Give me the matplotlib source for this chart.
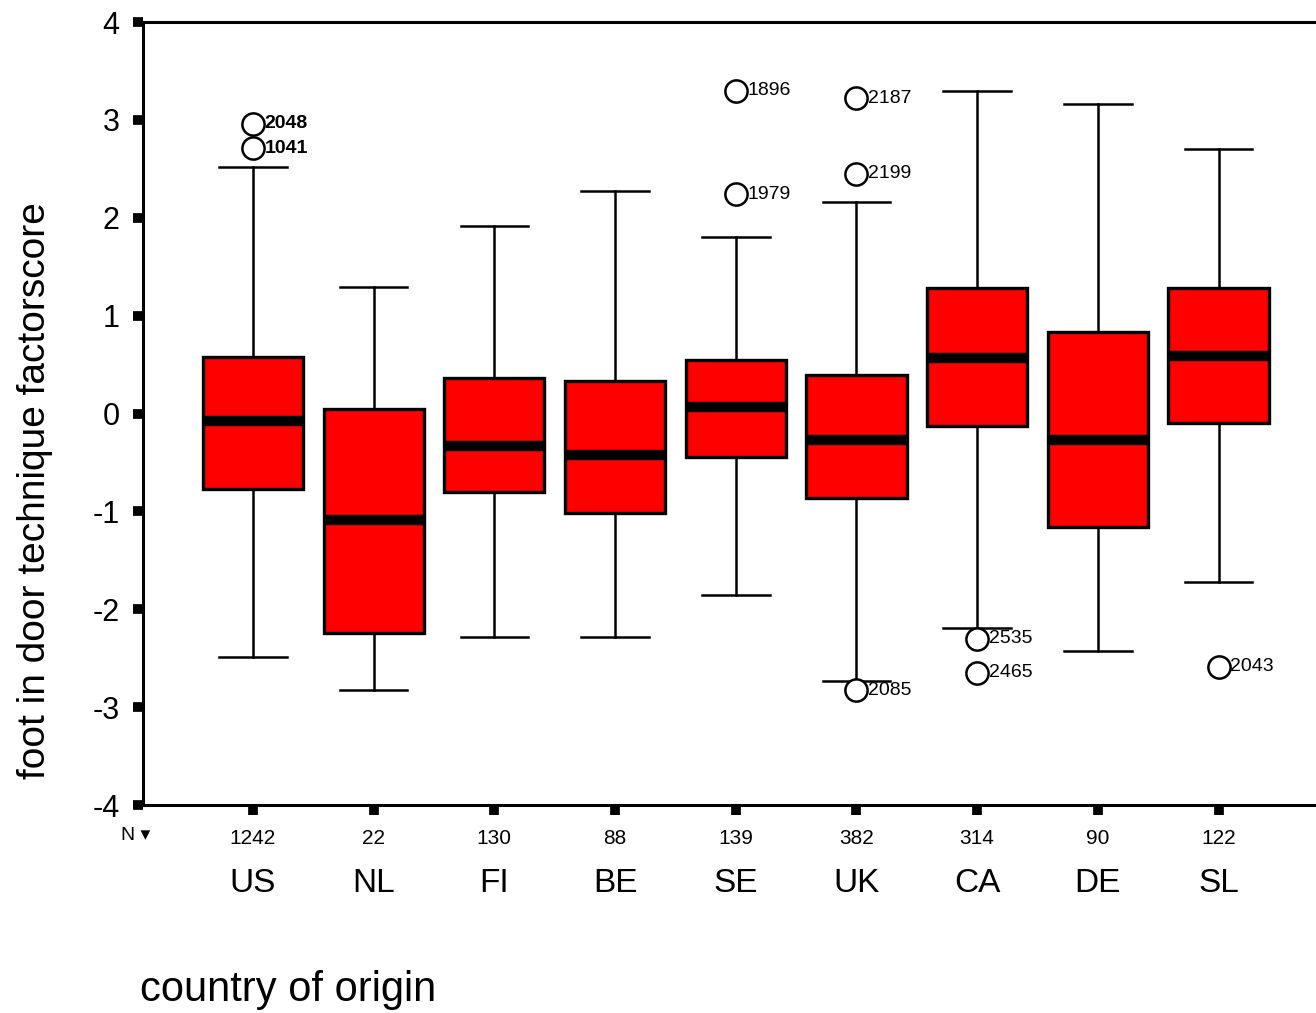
import matplotlib
matplotlib.use("Agg")
import matplotlib.pyplot as plt
from matplotlib.transforms import blended_transform_factory

countries = ["US", "NL", "FI", "BE", "SE", "UK", "CA", "DE", "SL"]
counts = ["1242", "22", "130", "88", "139", "382", "314", "90", "122"]
whisk_hi = [2.52, 1.29, 1.92, 2.27, 1.80, 2.16, 3.29, 3.16, 2.70]
q3 = [0.58, 0.05, 0.36, 0.33, 0.55, 0.39, 1.28, 0.83, 1.28]
medians = [-0.08, -1.09, -0.33, -0.42, 0.07, -0.27, 0.57, -0.27, 0.59]
q1 = [-0.77, -2.24, -0.80, -1.02, -0.44, -0.86, -0.13, -1.16, -0.10]
whisk_lo = [-2.49, -2.83, -2.28, -2.28, -1.85, -2.73, -2.19, -2.43, -1.72]
outlier_vals = [[2.96, 2.71], [], [], [], [3.30, 2.24],
                [3.22, 2.45, -2.83], [-2.30, -2.65], [], [-2.59]]
outlier_labels = [["2048", "1041"], [], [], [], ["1896", "1979"],
                  ["2187", "2199", "2085"], ["2535", "2465"], [], ["2043"]]
y_ticks = [4, 3, 2, 1, 0, -1, -2, -3, -4]

plt.rcParams['font.family'] = ['Liberation Sans', 'DejaVu Sans']
fig = plt.figure(figsize=(13.16, 10.13), dpi=100)
ax = fig.add_axes([143/1316, 1-805/1013, 1-143/1316, (805-22)/1013])

stats = []
for i in range(len(countries)):
    stats.append(dict(med=medians[i], q1=q1[i], q3=q3[i],
                      whislo=whisk_lo[i], whishi=whisk_hi[i], fliers=[]))
pos = list(range(len(countries)))
ax.bxp(stats, positions=pos, widths=0.83, patch_artist=True, showfliers=False,
       boxprops=dict(facecolor="#ff0000", edgecolor="black", linewidth=2.4),
       medianprops=dict(color="black", linewidth=7.5, solid_capstyle="butt"),
       whiskerprops=dict(color="black", linewidth=1.8),
       capprops=dict(color="black", linewidth=1.8),
       capwidths=0.56)

for i, (vals, labs) in enumerate(zip(outlier_vals, outlier_labels)):
    for v, lab in zip(vals, labs):
        ax.plot([i], [v], 'o', markersize=16, markerfacecolor="white",
                markeredgecolor="black", markeredgewidth=1.8, zorder=5)
        ax.annotate(lab, (i, v), xytext=(8.5, 0), textcoords="offset points",
                    fontsize=14, va="center", ha="left", zorder=6,
                    fontweight="bold" if i == 0 else "normal")

ax.set_xlim(-0.911, 8.807)
ax.set_ylim(-4, 4)
ax.set_yticks(y_ticks)
ax.set_yticklabels([str(t) for t in y_ticks], fontsize=22)
ax.set_xticks(pos)
ax.set_xticklabels(counts, fontsize=15)
ax.tick_params(axis='both', direction='out', length=7, width=7, color='black', pad=10)
ax.tick_params(axis='x', pad=10)
ax.spines['right'].set_visible(False)
for s in ['left', 'top', 'bottom']:
    ax.spines[s].set_linewidth(2.2)

trans = blended_transform_factory(ax.transData, ax.transAxes)
for i, c in enumerate(countries):
    ax.text(i, -0.1, c, transform=trans, ha="center", va="center", fontsize=24)
ax.text(-0.97, -0.039, "N \u25be", transform=trans, ha="center", va="center", fontsize=14)

fig.text(35/1316, 1-491/1013, "foot in door technique factorscore", fontsize=28,
         rotation=90, ha="center", va="center")
fig.text(140/1316, 1-990/1013, "country of origin", fontsize=30, ha="left", va="center")

fig.savefig("out.png", dpi=100)
